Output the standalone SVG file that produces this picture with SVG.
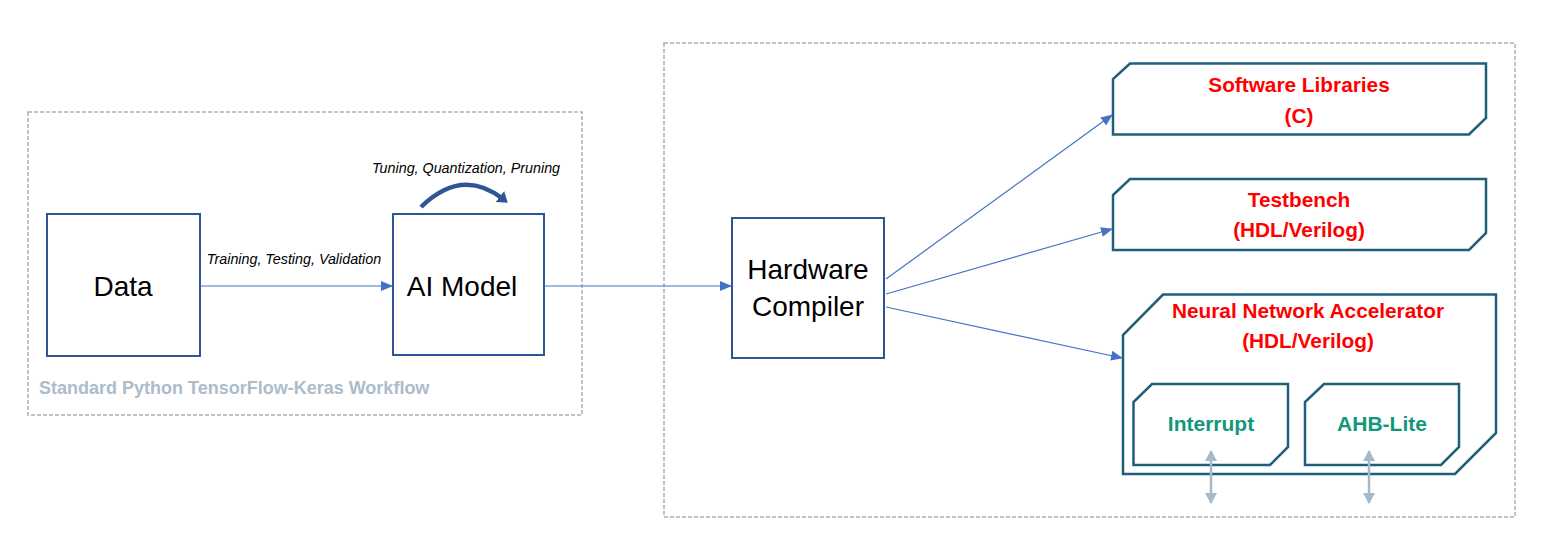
<svg xmlns="http://www.w3.org/2000/svg" width="1546" height="545" viewBox="0 0 1546 545">
<style>
.dash{fill:none;stroke:#a3b3c3;stroke-width:1.5;stroke-dasharray:4 2}
.box{fill:#fff;stroke:#2f5597;stroke-width:2}
.big{font-family:"Liberation Sans",Arial,sans-serif;font-size:28px;fill:#000;text-anchor:middle}
.lbl{font-family:"Liberation Sans",Arial,sans-serif;font-size:14.3px;font-style:italic;fill:#000;text-anchor:middle}
.shape{fill:#fff;stroke:#1f5f7a;stroke-width:2.5}
.red{font-family:"Liberation Sans",Arial,sans-serif;font-size:20.8px;font-weight:bold;fill:#ff0000;text-anchor:middle}
.grn{font-family:"Liberation Sans",Arial,sans-serif;font-size:21px;font-weight:bold;fill:#12977a;text-anchor:middle}
.conn{fill:none;stroke:#4472c4;stroke-width:1.2}
.bi{fill:none;stroke:#a6b9c9;stroke-width:2.5}
</style>
<defs>
<marker id="ah" markerWidth="12" markerHeight="10" refX="11" refY="5" orient="auto" markerUnits="userSpaceOnUse">
<path d="M0,0 L12,5 L0,10 Z" fill="#4472c4"/>
</marker>
<marker id="gh" markerWidth="12" markerHeight="12" refX="10" refY="6" orient="auto-start-reverse" markerUnits="userSpaceOnUse">
<path d="M0,0 L11,6 L0,12 Z" fill="#a6b9c9"/>
</marker>
<marker id="ch" markerWidth="14" markerHeight="14" refX="4" refY="7" orient="auto" markerUnits="userSpaceOnUse">
<path d="M0,0 L10,7 L0,14 Z" fill="#2f5597"/>
</marker>
</defs>

<g id="workflow-group">
<rect class="dash" x="28" y="112" width="554" height="303"/>
<text x="39" y="394" font-family="Liberation Sans,Arial,sans-serif" font-size="18" font-weight="bold" fill="#acbccb">Standard Python TensorFlow-Keras Workflow</text>
</g>
<g id="compile-group">
<rect class="dash" x="664" y="43" width="851" height="474"/>
</g>

<g id="data">
<rect class="box" x="47" y="214" width="153" height="142"/>
<text class="big" x="123" y="296" font-size="26.5">Data</text>
</g>
<g id="ai-model">
<rect class="box" x="393" y="214" width="151" height="141"/>
<text class="big" x="462" y="296">AI Model</text>
</g>
<g id="hardware-compiler">
<rect class="box" x="732" y="218" width="152" height="140"/>
<text class="big" x="808" y="279">Hardware</text>
<text class="big" x="808" y="316">Compiler</text>
</g>
<g id="software-libraries">
<path class="shape" d="M1130,63.5 L1486,63.5 L1486,118 L1469,134.5 L1113,134.5 L1113,79 Z"/>
<text class="red" x="1299" y="92">Software Libraries</text>
<text class="red" x="1299" y="123">(C)</text>
</g>
<g id="testbench">
<path class="shape" d="M1130,179 L1486,179 L1486,233 L1469,250 L1113,250 L1113,195 Z"/>
<text class="red" x="1299" y="207">Testbench</text>
<text class="red" x="1299" y="237">(HDL/Verilog)</text>
</g>
<g id="nna">
<path class="shape" d="M1163,294.5 L1496,294.5 L1496,433 L1455,474 L1123,474 L1123,335 Z"/>
<text class="red" x="1308" y="318">Neural Network Accelerator</text>
<text class="red" x="1308" y="348">(HDL/Verilog)</text>
</g>
<g id="interrupt">
<path class="shape" d="M1152,384 L1288,384 L1288,447 L1270,465 L1133.5,465 L1133.5,402 Z"/>
<text class="grn" x="1211" y="431">Interrupt</text>
</g>
<g id="ahb-lite">
<path class="shape" d="M1324,384 L1459,384 L1459,447 L1441,465 L1305,465 L1305,402 Z"/>
<text class="grn" x="1382" y="431">AHB-Lite</text>
</g>

<g id="connectors">
<line class="conn" x1="200" y1="286" x2="392" y2="286" marker-end="url(#ah)"/>
<text class="lbl" x="294" y="264">Training, Testing, Validation</text>
<line class="conn" x1="544" y1="286" x2="731" y2="286" marker-end="url(#ah)"/>
<line class="conn" x1="886" y1="279" x2="1112" y2="115" marker-end="url(#ah)"/>
<line class="conn" x1="886" y1="294" x2="1112" y2="229" marker-end="url(#ah)"/>
<line class="conn" x1="886" y1="307" x2="1122" y2="358" marker-end="url(#ah)"/>
<path d="M421,207 Q462,167 503,199" fill="none" stroke="#2f5597" stroke-width="4.5" marker-end="url(#ch)"/>
<text class="lbl" x="466" y="173">Tuning, Quantization, Pruning</text>
<line class="bi" x1="1211" y1="451" x2="1211" y2="503" marker-start="url(#gh)" marker-end="url(#gh)"/>
<line class="bi" x1="1369" y1="451" x2="1369" y2="503" marker-start="url(#gh)" marker-end="url(#gh)"/>
</g>
</svg>
